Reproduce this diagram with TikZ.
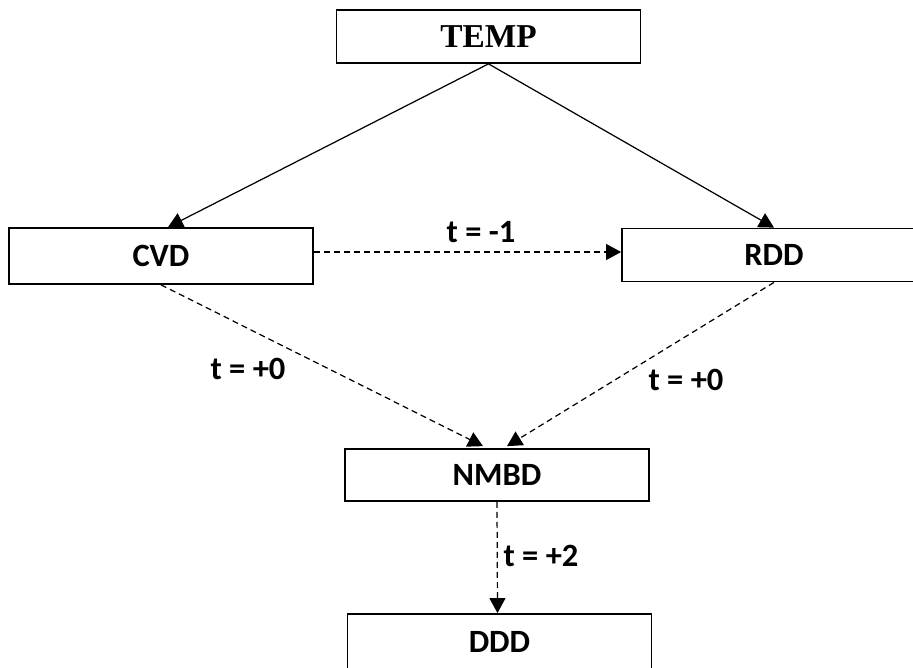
\documentclass[tikz,border=0pt]{standalone}
\usepackage{fontspec}
\setmainfont{Carlito}
\newfontfamily\serifbold{Liberation Serif}
\usepackage{tikz}
\usetikzlibrary{arrows.meta, calc}
\tikzset{
	flowbox/.style={rectangle, draw=black, line width=1pt, minimum width=6.08cm, minimum height=1.06cm, text centered, font=\fontsize{18.5}{21}\selectfont\bfseries, fill=white},
	solidarrow/.style={-{Triangle[length=8.5pt, width=9pt]}, line width=0.7pt},
	dasharrow/.style={-{Triangle[length=8.5pt, width=9pt]}, line width=0.7pt, dash pattern=on 3.4pt off 2.3pt},
	steplabel/.style={font=\fontsize{18.5}{21}\selectfont\bfseries, inner sep=0pt},
}

\begin{document}
\begin{tikzpicture}[x=0.02cm, y=0.02cm]
			\useasboundingbox (0,0) rectangle (913,-667);
			\clip (0,0) rectangle (913,-667);
			% boxes
			\node[flowbox, font=\fontsize{19}{22}\serifbold\bfseries] (temp) at (488.5,-36.5) {TEMP};
			\node[flowbox, minimum height=1.12cm] (cvd) at (161,-256) {CVD};
			\node[flowbox] (rdd) at (774,-255) {RDD};
			\node[flowbox, minimum height=1.04cm] (nmbd) at (497,-475) {NMBD};
			\node[flowbox, minimum height=1.12cm] (ddd) at (499.5,-642) {DDD};
			% connectors
			\draw[solidarrow] (temp.south) -- ($(cvd.north)+(7,0)$);
			\draw[solidarrow] (temp.south) -- (rdd.north);
			\draw[dasharrow] ($(cvd.east)+(0,4)$) -- ($(rdd.west)+(0,3)$);
			\draw[dasharrow] (cvd.south) -- ($(nmbd.north)+(-14,2)$);
			\draw[dasharrow] (rdd.south) -- ($(nmbd.north)+(10,2)$);
			\draw[dasharrow] (nmbd.south) -- ($(ddd.north)+(-2,0)$);
			% labels
			\node[steplabel] (lm1) at (481,-232) {t = -1};
			\node[steplabel] (lcvd) at (248,-369) {t = +0};
			\node[steplabel] (lrdd) at (686,-380) {t = +0};
			\node[steplabel] (lnmbd) at (541,-556) {t = +2};
		\end{tikzpicture}
\end{document}
